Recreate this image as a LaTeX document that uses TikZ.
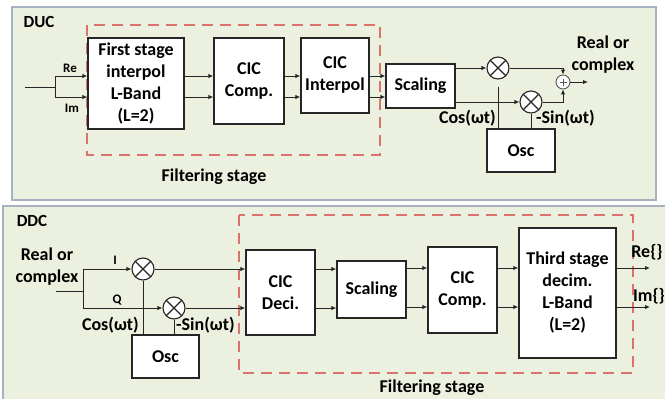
\documentclass[tikz,border=0pt]{standalone}
\usepackage{fontspec}
\setmainfont{Carlito}
\usepackage{tikz}
\usetikzlibrary{arrows.meta}

\definecolor{panelfill}{HTML}{EBF1DE}
\definecolor{paneledge}{HTML}{A7B1C1}
\definecolor{stagered}{HTML}{D9736C}

\tikzset{
  panel/.style={fill=panelfill, draw=paneledge, line width=1.8pt},
  stagebox/.style={draw=stagered, line width=1.6pt, dash pattern=on 11pt off 7pt},
  blk/.style={draw=black!85, line width=1.3pt, fill=white, inner sep=0pt, align=center,
    font=\bfseries\fontsize{18}{22}\selectfont},
  lbl/.style={inner sep=0pt, align=center, font=\bfseries\fontsize{18}{22}\selectfont},
  sublbl/.style={inner sep=0pt, font=\bfseries\fontsize{13}{15}\selectfont},
  wire/.style={line width=1pt, black!85},
  sig/.style={wire, -{Latex[length=5pt,width=4.5pt]}},
  mixer/.style={circle, draw=black!85, line width=1.1pt, fill=white, minimum size=22pt, inner sep=0pt,
    path picture={\draw[line width=1.1pt]
      (path picture bounding box.south west) -- (path picture bounding box.north east)
      (path picture bounding box.north west) -- (path picture bounding box.south east);}},
  adder/.style={circle, draw=black!65, line width=0.9pt, fill=white, minimum size=14pt, inner sep=0pt,
    path picture={\draw[black!65, line width=0.8pt]
      ([xshift=-3.5pt]path picture bounding box.center) -- ([xshift=3.5pt]path picture bounding box.center)
      ([yshift=-3.5pt]path picture bounding box.center) -- ([yshift=3.5pt]path picture bounding box.center);}}
}

\begin{document}
\begin{tikzpicture}[x=1pt, y=-1pt]
\path[use as bounding box] (0,0) rectangle (665,399);
\clip (0,0) rectangle (665,399);

% up-conversion chain
\draw[panel] (12,7) rectangle (656,200);
\node[lbl, font=\bfseries\fontsize{17}{20}\selectfont] (duc) at (39,22) {DUC};
\draw[stagebox] (87,25) rectangle (380,155);
\node[lbl] (ustage) at (214,177) {Filtering stage};

\node[blk, minimum width=96pt, minimum height=91pt] (first) at (136,83.5) {First stage\\interpol\\L-Band\\(L=2)};
\node[blk, minimum width=70pt, minimum height=86pt] (ucomp) at (249,81) {CIC\\Comp.};
\node[blk, minimum width=68pt, minimum height=75pt] (uinterp) at (335,75.5) {CIC\\Interpol};
\node[blk, minimum width=69pt, minimum height=44pt] (uscale) at (420.5,86) {Scaling};
\node[mixer] (umixa) at (498,68) {};
\node[mixer] (umixb) at (531,102) {};
\node[adder] (usum) at (563,82) {};
\node[blk, minimum width=68pt, minimum height=43pt] (uosc) at (521,150.5) {Osc};

\coordinate (uin) at (25,87);
\coordinate (usplit) at (55,87);
\coordinate (uout) at (588,82);

\draw[wire] (uin) -- (usplit);
\draw[wire] (usplit |- 0,76) -- (usplit |- 0,97);
\draw[sig] (usplit |- 0,76) -- (first.west |- 0,76);
\draw[sig] (usplit |- 0,97) -- (first.west |- 0,97);
\draw[sig] (first.east |- 0,76) -- (ucomp.west |- 0,76);
\draw[sig] (first.east |- 0,97) -- (ucomp.west |- 0,97);
\draw[sig] (ucomp.east |- 0,76) -- (uinterp.west |- 0,76);
\draw[sig] (ucomp.east |- 0,97) -- (uinterp.west |- 0,97);
\draw[sig] (uinterp.east |- 0,76) -- (uscale.west |- 0,76);
\draw[sig] (uinterp.east |- 0,97) -- (uscale.west |- 0,97);
\draw[sig] (uscale.east |- umixa) -- (umixa);
\draw[sig] (uscale.east |- umixb) -- (umixb);
\draw[sig] (umixa) -| (usum);
\draw[sig] (umixb) -| (usum);
\draw[sig] (usum) -- (uout);
\draw[wire] ([yshift=-7pt]umixa.south) -- (umixa.south |- uosc.north);
\draw[wire] (umixb.south) -- (umixb.south |- uosc.north);

\node[sublbl] (ure) at (70,68) {Re};
\node[sublbl] (uim) at (72,108) {Im};
\node[lbl, anchor=east] (ucos) at (496,118) {Cos(ωt)};
\node[lbl, anchor=west] (usin) at (536,118) {-Sin(ωt)};
\node[lbl] (uoutlbl) at (603,55) {Real or\\complex};

% down-conversion chain
\draw[panel] (3,206) rectangle (680,420);
\node[lbl, font=\bfseries\fontsize{17}{20}\selectfont] (ddc) at (32,221) {DDC};
\draw[stagebox] (239,215) rectangle (633,373);
\node[lbl] (dstage) at (432,388) {Filtering stage};

\node[lbl] (dinlbl) at (47,267) {Real or\\complex};
\node[mixer] (dmixa) at (143,269) {};
\node[mixer] (dmixb) at (174,308) {};
\node[blk, minimum width=67pt, minimum height=43pt] (dosc) at (165.5,356.5) {Osc};
\node[blk, minimum width=69pt, minimum height=85pt] (ddeci) at (280.5,292.5) {CIC\\Deci.};
\node[blk, minimum width=69pt, minimum height=57pt] (dscale) at (371.5,289.5) {Scaling};
\node[blk, minimum width=69pt, minimum height=86pt] (dcomp) at (462.5,290) {CIC\\Comp.};
\node[blk, minimum width=97pt, minimum height=130pt] (third) at (567.5,293) {Third stage\\decim.\\L-Band\\(L=2)};

\coordinate (din) at (56,291);
\coordinate (dsplit) at (83,291);
\coordinate (reout) at (650,268);
\coordinate (imout) at (650,307);

\draw[wire] (din) -- (dsplit);
\draw[wire] (dsplit |- dmixa) -- (dsplit |- dmixb);
\draw[sig] (dsplit |- dmixa) -- (dmixa);
\draw[sig] (dsplit |- dmixb) -- (dmixb);
\draw[sig] (dmixa) -- (ddeci.west |- dmixa);
\draw[sig] (dmixb) -- (ddeci.west |- dmixb);
\draw[sig] (ddeci.east |- 0,269) -- (dscale.west |- 0,269);
\draw[sig] (ddeci.east |- 0,308) -- (dscale.west |- 0,308);
\draw[sig] (dscale.east |- 0,268) -- (dcomp.west |- 0,268);
\draw[sig] (dscale.east |- 0,307) -- (dcomp.west |- 0,307);
\draw[sig] (dcomp.east |- 0,268) -- (third.west |- 0,268);
\draw[sig] (dcomp.east |- 0,307) -- (third.west |- 0,307);
\draw[sig] (third.east |- reout) -- (reout);
\draw[sig] (third.east |- imout) -- (imout);
\draw[wire] (dmixa) -- (dmixa |- dosc.north);
\draw[wire] (dmixb) -- (dmixb |- dosc.north);

\node[sublbl] (dilbl) at (115,260) {I};
\node[sublbl] (dqlbl) at (117,300) {Q};
\node[lbl, anchor=east] (dcos) at (139,325) {Cos(ωt)};
\node[lbl, anchor=west] (dsin) at (176,325) {-Sin(ωt)};
\node[lbl] (dre) at (647,252) {Re\{\}};
\node[lbl] (dim) at (649,296) {Im\{\}};
\end{tikzpicture}
\end{document}
